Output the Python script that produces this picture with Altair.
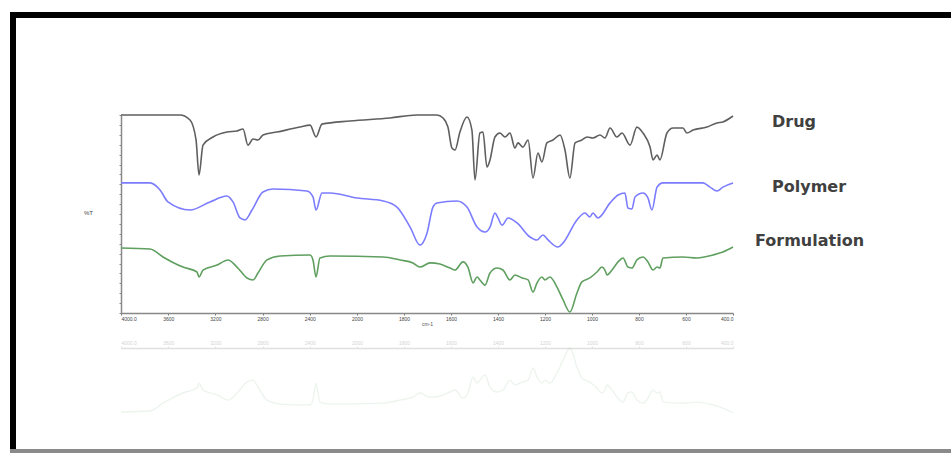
import altair as alt
import pandas as pd

# FTIR spectra (wavenumber in cm-1, transmittance in %T units, offset per trace)
drug_wn = [4000, 3500, 3415, 3364, 3339, 3305, 3220, 3102, 3017, 2966, 2924, 2881, 2839, 2797,
           2678, 2483, 2398, 2347, 2297, 2059, 1860, 1745, 1660, 1634, 1613, 1596, 1583, 1562,
           1532, 1511, 1498, 1477, 1464, 1447, 1434, 1413, 1392, 1370, 1349, 1328, 1315, 1294,
           1272, 1251, 1230, 1213, 1192, 1166, 1136, 1115, 1094, 1072, 1043, 1021, 996, 966,
           945, 923, 894, 872, 838, 809, 783, 753, 740, 723, 711, 681, 655, 613, 596, 570,
           511, 468, 443, 400]
drug_t = [100, 100, 97.5, 87.4, 69.7, 84.8, 88.9, 91.4, 91.9, 92.9, 84.8, 87.9, 87.4, 89.9,
          91.4, 93.9, 94.9, 88.9, 95.4, 97.0, 98.5, 100, 100, 98.5, 93.9, 83.3, 82.3, 91.4,
          99.0, 92.4, 67.2, 90.9, 91.4, 73.7, 77.3, 88.9, 90.9, 88.9, 90.9, 83.3, 85.9, 83.8,
          87.4, 68.2, 80.8, 76.3, 85.9, 87.4, 89.9, 82.3, 68.2, 85.9, 87.4, 88.9, 88.4, 89.9,
          88.4, 93.4, 88.9, 90.9, 84.8, 93.9, 90.9, 83.8, 77.3, 79.8, 77.3, 90.9, 93.4, 93.4,
          90.9, 92.4, 93.9, 96.0, 96.5, 99.5]

polymer_wn = [4000, 3754, 3669, 3602, 3415, 3246, 3102, 3051, 2991, 2949, 2890, 2797, 2712,
              2424, 2373, 2347, 2297, 2229, 2000, 1889, 1830, 1774, 1732, 1702, 1677, 1660,
              1575, 1532, 1489, 1455, 1434, 1413, 1400, 1383, 1357, 1319, 1264, 1234, 1209,
              1187, 1145, 1123, 1064, 1030, 1009, 996, 975, 923, 889, 860, 847, 830, 817, 783,
              762, 745, 723, 698, 528, 498, 468, 443, 400]
polymer_t = [65.7, 65.7, 62.1, 56.1, 52.0, 56.1, 59.1, 56.1, 48.0, 47.0, 52.0, 61.1, 62.6,
             61.6, 58.6, 52.0, 60.6, 60.6, 58.1, 56.6, 53.5, 43.4, 34.3, 40.4, 53.5, 55.6,
             56.6, 53.5, 43.4, 40.9, 43.4, 50.5, 48.0, 44.4, 48.0, 45.5, 38.4, 36.9, 39.4,
             36.9, 33.3, 35.4, 47.0, 50.5, 48.5, 50.5, 48.0, 55.6, 59.6, 60.6, 53.0, 52.5,
             58.6, 60.6, 58.1, 52.0, 63.6, 65.7, 65.7, 63.6, 61.6, 63.6, 65.7]

formulation_wn = [4000, 3754, 3644, 3568, 3475, 3356, 3339, 3305, 3186, 3093, 3017, 2932, 2881,
                  2839, 2763, 2652, 2398, 2373, 2347, 2314, 2229, 1889, 1817, 1762, 1732, 1689,
                  1647, 1604, 1583, 1549, 1528, 1506, 1489, 1477, 1455, 1434, 1404, 1379, 1349,
                  1328, 1298, 1272, 1251, 1234, 1213, 1200, 1179, 1149, 1123, 1094, 1064, 1043,
                  1009, 979, 958, 945, 936, 915, 889, 868, 847, 830, 809, 783, 762, 740, 723,
                  711, 698, 613, 553, 485, 443, 400]
formulation_t = [32.8, 32.3, 28.3, 25.8, 23.2, 20.7, 18.2, 21.7, 24.2, 26.8, 23.2, 17.7, 16.7,
                 20.2, 26.8, 28.8, 29.3, 26.8, 18.2, 27.8, 28.8, 28.3, 26.8, 25.3, 23.2, 25.3,
                 24.7, 22.7, 21.7, 25.8, 23.2, 15.2, 18.2, 16.7, 14.1, 20.2, 22.7, 21.7, 16.7,
                 19.2, 17.7, 16.7, 10.6, 15.2, 18.2, 16.7, 18.2, 13.1, 6.6, 0.5, 10.1, 15.7,
                 17.7, 20.7, 23.2, 21.7, 19.2, 21.7, 25.8, 27.8, 23.2, 22.7, 26.8, 28.3, 25.8,
                 21.7, 23.2, 22.7, 27.8, 28.3, 27.8, 29.3, 30.8, 33.3]

series_names = ["Drug", "Polymer", "Formulation"]
series_colors = ["#5f5f5f", "#7c7cff", "#5f9f5f"]
label_levels = [96.5, 63.6, 36.4]

tick_values = [4000, 3600, 3200, 2800, 2400, 2000, 1800, 1600, 1400, 1200, 1000, 800, 600, 400]

rows = []
for name, wn, t in [("Drug", drug_wn, drug_t),
                    ("Polymer", polymer_wn, polymer_t),
                    ("Formulation", formulation_wn, formulation_t)]:
    for i, (w, v) in enumerate(zip(wn, t)):
        rows.append({"series": name, "wn": w, "t": v, "i": i})
spectra = pd.DataFrame(rows)

W, H = 613, 198
# PerkinElmer-style split axis: 2000 cm-1 breakpoint with doubled scale below
xscale = alt.Scale(domain=[4000, 2000, 400], range=[0, 236, 612], nice=False, zero=False)
yscale = alt.Scale(domain=[0, 100], nice=False, zero=False)
cscale = alt.Scale(domain=series_names, range=series_colors)

label_expr = "datum.value == 4000 ? '4000.0' : datum.value == 400 ? '400.0' : datum.label"

lines = alt.Chart(spectra).mark_line(strokeWidth=1.6, clip=False, interpolate="monotone").encode(
    x=alt.X("wn:Q", scale=xscale,
            axis=alt.Axis(values=tick_values, labelExpr=label_expr, format="d",
                          labelFontSize=5, labelColor="#444", labelPadding=1,
                          tickSize=2, tickColor="#777", domainColor="#888", domainWidth=1.5,
                          grid=False, title="cm-1", titleFontSize=5, titleColor="#555",
                          titleFontWeight="normal", titlePadding=0)),
    y=alt.Y("t:Q", scale=yscale,
            axis=alt.Axis(labels=False, tickCount=30, tickSize=2, tickColor="#888",
                          domainColor="#888", domainWidth=1.5, grid=False,
                          title="%T", titleFontSize=6, titleColor="#444",
                          titleFontWeight="normal", titleAngle=0, titleX=-33, titleY=100,
                          titleAlign="center")),
    color=alt.Color("series:N", scale=cscale, legend=None),
    order="i:Q",
)

# faint mirror image of the formulation trace below the axis
reflection = alt.Chart(spectra).transform_filter(
    alt.datum.series == "Formulation"
).transform_calculate(
    tm="-17.2 - datum.t"
).mark_line(strokeWidth=1.4, opacity=0.11, clip=False, color="#5f9f5f",
            interpolate="monotone").encode(
    x=alt.X("wn:Q", scale=xscale,
            axis=alt.Axis(orient="top", offset=-233, values=tick_values, labelExpr=label_expr,
                          format="d", labelFontSize=5, labelColor="#d4d4d4", labelPadding=1,
                          tickSize=2, tickColor="#e4e4e4", domainColor="#e0e0e0",
                          domainWidth=1.5, grid=False, title=None)),
    y=alt.Y("tm:Q", scale=yscale),
    order="i:Q",
)

labels = pd.DataFrame({"series": series_names, "level": label_levels})
text_style = dict(align="left", baseline="middle", font="DejaVu Sans", fontSize=16,
                  fontWeight="bold", color="#404040")
upper_labels = alt.Chart(labels).transform_filter(
    alt.datum.series != "Formulation"
).mark_text(**text_style).encode(
    x=alt.value(651), y=alt.Y("level:Q", scale=yscale), text="series:N")
lower_label = alt.Chart(labels).transform_filter(
    alt.datum.series == "Formulation"
).mark_text(**text_style).encode(
    x=alt.value(634), y=alt.Y("level:Q", scale=yscale), text="series:N")

# picture frame around the figure
one = pd.DataFrame({"k": [0]})
frame_top = alt.Chart(one).mark_rule(color="#000", strokeWidth=6).encode(
    x=alt.value(-111), x2=alt.value(840), y=alt.value(-100))
frame_left = alt.Chart(one).mark_rule(color="#000", strokeWidth=6).encode(
    x=alt.value(-108), y=alt.value(-103), y2=alt.value(338))
frame_bottom = alt.Chart(one).mark_rule(color="#8a8a8a", strokeWidth=4).encode(
    x=alt.value(-111), x2=alt.value(840), y=alt.value(336))

chart = alt.layer(
    reflection, lines, upper_labels, lower_label, frame_top, frame_left, frame_bottom
).resolve_axis(x="independent").properties(
    width=W, height=H,
    autosize=alt.AutoSizeParams(type="none"),
    padding={"left": 121, "top": 115, "right": 951 - 121 - W, "bottom": 453 - 115 - H},
    background="white",
).configure_view(stroke=None)

chart.save("out.html", embed_options={"renderer": "svg", "actions": False})
